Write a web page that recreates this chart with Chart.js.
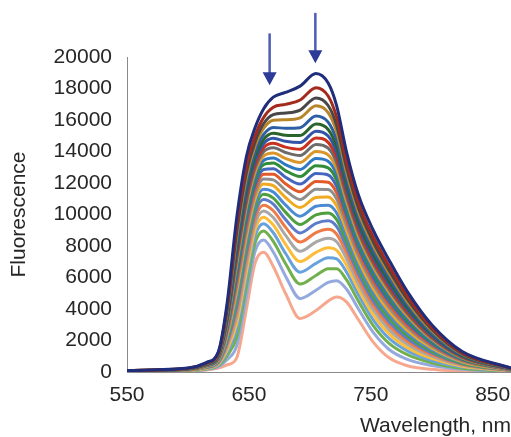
<!DOCTYPE html>
<html>
<head>
<meta charset="utf-8">
<script src="https://cdn.jsdelivr.net/npm/chart.js@4/dist/chart.umd.min.js"></script>
<style>
  body { margin: 0; background: #fff; }
  canvas { display: block; }
</style>
</head>
<body>
<canvas id="spectra" width="511" height="437"></canvas>
<script>
// emission wavelengths (nm) shared by every trace
const wavelengths = [550, 600, 615, 625, 632, 640, 648, 655, 662, 670, 680, 692, 705, 715, 722, 730, 740, 752, 765, 780, 800, 825, 865];

// fluorescence traces, highest first
const trace01 = [100, 250, 600, 1300, 4300, 9800, 13700, 15500, 16700, 17450, 17750, 18150, 18950, 18350, 16900, 14000, 11200, 9000, 7100, 5100, 3000, 1300, 250];
const trace02 = [90, 240, 570, 1240, 4070, 9270, 13120, 14980, 16150, 16810, 16990, 17270, 18050, 17520, 16170, 13430, 10730, 8570, 6730, 4820, 2830, 1230, 240];
const trace03 = [90, 230, 550, 1190, 3900, 8880, 12700, 14610, 15760, 16340, 16440, 16630, 17400, 16920, 15650, 13020, 10390, 8270, 6460, 4620, 2710, 1170, 230];
const trace04 = [90, 220, 540, 1160, 3780, 8590, 12380, 14330, 15460, 15990, 16020, 16140, 16900, 16470, 15250, 12700, 10130, 8030, 6260, 4460, 2620, 1130, 220];
const trace05 = [80, 210, 510, 1110, 3610, 8210, 11960, 13960, 15070, 15530, 15470, 15510, 16260, 15870, 14730, 12290, 9790, 7730, 5990, 4260, 2490, 1080, 210];
const trace06 = [80, 210, 500, 1080, 3480, 7900, 11630, 13670, 14760, 15160, 15030, 15010, 15740, 15400, 14310, 11970, 9520, 7490, 5780, 4100, 2400, 1040, 200];
const trace07 = [80, 200, 480, 1050, 3360, 7640, 11340, 13410, 14490, 14840, 14650, 14570, 15290, 14980, 13950, 11680, 9280, 7280, 5590, 3960, 2310, 1000, 190];
const trace08 = [70, 200, 470, 1010, 3250, 7380, 11060, 13160, 14230, 14530, 14280, 14140, 14860, 14580, 13600, 11400, 9050, 7070, 5410, 3820, 2230, 960, 190];
const trace09 = [70, 190, 460, 990, 3150, 7140, 10800, 12930, 13980, 14240, 13940, 13740, 14450, 14210, 13270, 11150, 8840, 6880, 5250, 3700, 2150, 930, 180];
const trace10 = [70, 180, 440, 960, 3030, 6870, 10510, 12670, 13710, 13910, 13560, 13300, 14000, 13790, 12910, 10860, 8600, 6660, 5060, 3550, 2070, 890, 170];
const trace11 = [60, 180, 430, 920, 2920, 6610, 10220, 12410, 13430, 13590, 13170, 12860, 13550, 13380, 12540, 10570, 8360, 6450, 4870, 3410, 1980, 860, 170];
const trace12 = [60, 170, 410, 890, 2800, 6340, 9930, 12160, 13160, 13270, 12790, 12410, 13100, 12960, 12180, 10290, 8130, 6240, 4690, 3270, 1900, 820, 160];
const trace13 = [60, 170, 400, 860, 2680, 6040, 9610, 11870, 12860, 12910, 12370, 11930, 12600, 12510, 11780, 9970, 7870, 6000, 4480, 3120, 1810, 780, 150];
const trace14 = [60, 160, 380, 820, 2550, 5750, 9290, 11590, 12560, 12560, 11950, 11440, 12100, 12050, 11380, 9660, 7610, 5770, 4280, 2960, 1710, 740, 140];
const trace15 = [50, 150, 370, 790, 2420, 5460, 8970, 11300, 12260, 12200, 11530, 10950, 11610, 11590, 10980, 9340, 7350, 5540, 4070, 2810, 1620, 700, 140];
const trace16 = [50, 150, 350, 750, 2290, 5150, 8630, 11000, 11940, 11830, 11080, 10440, 11080, 11110, 10550, 9010, 7070, 5290, 3860, 2640, 1520, 650, 130];
const trace17 = [40, 140, 330, 710, 2140, 4820, 8270, 10680, 11600, 11430, 10610, 9890, 10520, 10590, 10100, 8650, 6780, 5020, 3630, 2470, 1420, 610, 120];
const trace18 = [40, 130, 310, 670, 2010, 4500, 7920, 10370, 11280, 11040, 10150, 9360, 9980, 10100, 9670, 8310, 6490, 4770, 3410, 2300, 1310, 560, 110];
const trace19 = [40, 120, 300, 640, 1870, 4180, 7570, 10070, 10950, 10660, 9690, 8830, 9440, 9600, 9230, 7960, 6210, 4510, 3180, 2130, 1210, 520, 100];
const trace20 = [30, 120, 280, 600, 1720, 3830, 7190, 9730, 10590, 10240, 9200, 8250, 8850, 9060, 8750, 7590, 5900, 4240, 2940, 1950, 1100, 470, 90];
const trace21 = [30, 110, 260, 550, 1560, 3470, 6800, 9390, 10230, 9810, 8690, 7660, 8250, 8500, 8270, 7210, 5580, 3950, 2690, 1760, 990, 420, 80];
const trace22 = [30, 100, 240, 510, 1390, 3080, 6380, 9010, 9830, 9330, 8120, 7010, 7590, 7890, 7730, 6790, 5240, 3640, 2420, 1550, 860, 360, 70];
const trace23 = [20, 90, 220, 460, 1220, 2670, 5930, 8610, 9410, 8840, 7540, 6340, 6900, 7260, 7180, 6350, 4870, 3310, 2130, 1340, 730, 310, 60];
const trace24 = [20, 80, 190, 410, 1020, 2220, 5440, 8170, 8950, 8290, 6890, 5580, 6130, 6550, 6560, 5860, 4470, 2950, 1820, 1100, 590, 240, 50];
const trace25 = [10, 70, 160, 340, 780, 1670, 4830, 7640, 8380, 7620, 6100, 4670, 5190, 5690, 5800, 5270, 3980, 2510, 1430, 800, 410, 170, 40];
const trace26 = [0, 50, 120, 250, 450, 900, 4000, 6900, 7600, 6700, 5000, 3400, 3900, 4500, 4760, 4450, 3300, 1900, 900, 400, 170, 60, 20];

const traces = [trace01, trace02, trace03, trace04, trace05, trace06, trace07, trace08, trace09,
  trace10, trace11, trace12, trace13, trace14, trace15, trace16, trace17, trace18, trace19,
  trace20, trace21, trace22, trace23, trace24, trace25, trace26];

const traceColors = ['#1f2d7a', '#a52a1e', '#474747', '#b8862a', '#2d5fa5', '#2b642b',
  '#3355a8', '#c8321f', '#6b6b6b', '#d9962a', '#2f78c2', '#338c38', '#4466bf', '#e35a2a',
  '#8e8e8e', '#f2a922', '#4a8bd3', '#4f9f3f', '#5f7ccb', '#ee7a45', '#a8a8a8', '#fbbd3a',
  '#67a2dc', '#72b04e', '#94a9de', '#f6a88e'];

const xTicks = [550, 650, 750, 850];
const yTicks = [0, 2000, 4000, 6000, 8000, 10000, 12000, 14000, 16000, 18000, 20000];

// arrows over the two emission bands (wavelength, tail and tip in intensity units)
const arrowMarks = [
  { x: 667, from: 21500, to: 18200 },
  { x: 704.5, from: 22800, to: 19600 }
];

Chart.defaults.font.family = "'Liberation Sans', Arial, sans-serif";
Chart.defaults.color = '#262626';

const peakArrows = {
  id: 'peakArrows',
  afterDraw(chart) {
    const { ctx, scales: { x, y } } = chart;
    ctx.save();
    arrowMarks.forEach(a => {
      const px = x.getPixelForValue(a.x);
      const top = y.getPixelForValue(a.from);
      const tip = y.getPixelForValue(a.to);
      ctx.strokeStyle = '#4b5db5';
      ctx.lineWidth = 2.5;
      ctx.beginPath();
      ctx.moveTo(px, top);
      ctx.lineTo(px, tip - 12);
      ctx.stroke();
      ctx.fillStyle = '#2c3b97';
      ctx.beginPath();
      ctx.moveTo(px - 7, tip - 13);
      ctx.lineTo(px + 7, tip - 13);
      ctx.lineTo(px, tip);
      ctx.closePath();
      ctx.fill();
    });
    ctx.restore();
  }
};

const datasets = traces.map((t, i) => ({
  data: t.map((v, j) => ({ x: wavelengths[j], y: v })),
  borderColor: traceColors[i],
  borderWidth: 3,
  pointRadius: 0,
  cubicInterpolationMode: 'monotone',
  fill: false
}));

new Chart(document.getElementById('spectra'), {
  type: 'line',
  data: { datasets },
  options: {
    responsive: false,
    animation: false,
    layout: { padding: { top: 57, left: 0, right: 0, bottom: 0 } },
    plugins: { legend: { display: false }, tooltip: { enabled: false } },
    scales: {
      x: {
        type: 'linear',
        min: 550,
        max: 865,
        afterBuildTicks: s => { s.ticks = xTicks.map(v => ({ value: v })); },
        afterFit: s => {
          s.height = 65;
          s.paddingLeft = 0;
          s.paddingRight = 0;
        },
        grid: { display: false, drawTicks: false },
        border: { color: '#8a8a8a', width: 1 },
        ticks: { font: { size: 21 }, padding: 11, maxRotation: 0, autoSkip: false },
        title: {
          display: true,
          text: 'Wavelength, nm',
          align: 'end',
          font: { size: 21, lineHeight: 1 },
          padding: { top: 0, bottom: 0 }
        }
      },
      y: {
        min: 0,
        max: 20000,
        afterBuildTicks: s => { s.ticks = yTicks.map(v => ({ value: v })); },
        afterFit: s => { s.width = 127; },
        grid: { display: false, drawTicks: false },
        border: { color: '#8a8a8a', width: 1 },
        ticks: { font: { size: 21 }, padding: 15, callback: v => String(v) },
        title: {
          display: true,
          text: 'Fluorescence',
          font: { size: 21, lineHeight: 1 },
          padding: { top: 9, bottom: 0 }
        }
      }
    }
  },
  plugins: [peakArrows]
});
</script>
</body>
</html>
